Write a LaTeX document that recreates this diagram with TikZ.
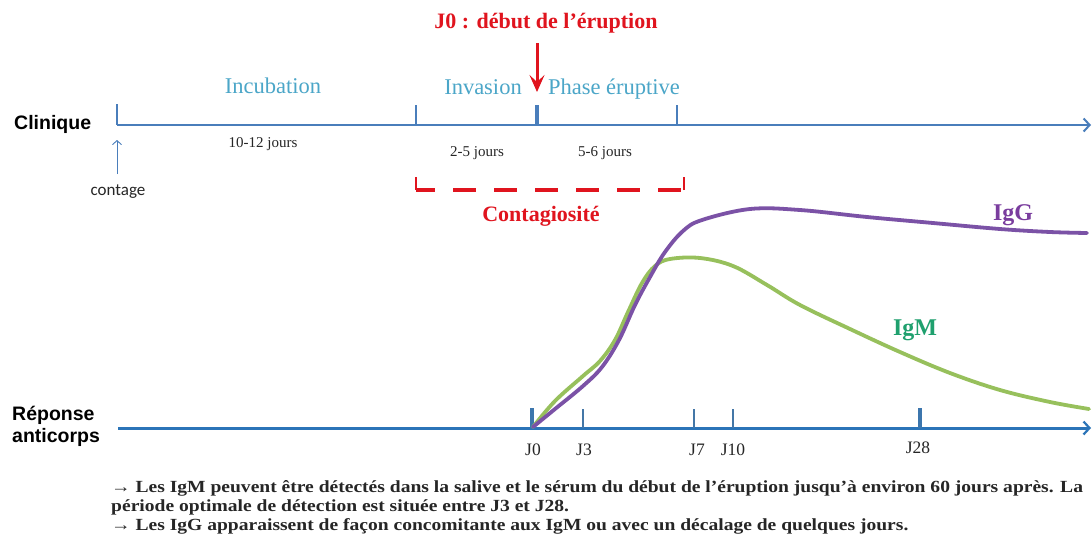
\documentclass[tikz,border=0pt]{standalone}
\usepackage{fontspec}
\setmainfont{Liberation Serif}
\newfontfamily\arialf{Liberation Sans}
\newfontfamily\calibrif{Carlito}
\newfontfamily\bodyf[FakeStretch=1.15]{Liberation Serif}
\usetikzlibrary{arrows.meta}
\definecolor{axisA}{HTML}{4A7EBB}
\definecolor{axisB}{HTML}{2B74B8}
\definecolor{phasec}{HTML}{4BA6C8}
\definecolor{redc}{HTML}{E0141E}
\definecolor{iggc}{HTML}{7B52A6}
\definecolor{igmc}{HTML}{97C05C}
\definecolor{igmtext}{HTML}{1FA06E}
\definecolor{iggtext}{HTML}{7A3D9E}
\definecolor{textc}{HTML}{262626}
\tikzset{
  topaxis/.style={draw=axisA, line width=2.3pt, -{Straight Barb[length=6pt,width=13pt,line width=2pt]}},
  botaxis/.style={draw=axisB, line width=3pt, -{Straight Barb[length=6pt,width=13pt,line width=2.2pt]}},
  thintick/.style={draw=axisA, line width=1.1pt},
  thicktick/.style={draw=axisA, line width=3.5pt},
  bthin/.style={draw=axisB!70!gray, line width=1.1pt},
  bthick/.style={draw=axisB!80!gray, line width=3.5pt},
  lab/.style={inner sep=0pt, anchor=base},
  sideLabel/.style={inner sep=0pt, anchor=west, font=\arialf\bfseries\fontsize{19.5}{22}\selectfont, text=black, align=left},
  phaselab/.style={lab, font=\fontsize{22.5}{26}\selectfont, text=phasec},
  durlab/.style={lab, font=\fontsize{15}{17}\selectfont, text=textc},
  redlab/.style={lab, font=\bfseries\fontsize{22}{26}\selectfont, text=redc},
  jlab/.style={lab, font=\fontsize{17.5}{20}\selectfont, text=textc},
  ablab/.style={lab, font=\bfseries\fontsize{24}{28}\selectfont},
  bodytxt/.style={inner sep=0pt, anchor=base west, font=\bodyf\bfseries\fontsize{17}{19}\selectfont, text=textc},
  curveG/.style={draw=iggc, line width=3.8pt, line cap=round},
  curveM/.style={draw=igmc, line width=3.8pt, line cap=round},
}
\begin{document}
\begin{tikzpicture}[x=1pt,y=-1pt]
\useasboundingbox[fill=white] (0,0) rectangle (1092,547);
% top axis
\coordinate (t0) at (117,125);
\coordinate (tend) at (1091,125);
\coordinate (tinv) at (416,125);
\coordinate (tj0) at (537,125);
\coordinate (tph) at (677,125);
\draw[topaxis] (t0) -- (tend);
\draw[thintick] (117,104) -- (t0);
\draw[thintick] (416,105) -- (tinv);
\draw[thintick] (677,105) -- (tph);
\draw[thicktick] (537,105) -- (tj0);
\node[sideLabel] (clin) at (14,124) {Clinique};
% contage
\coordinate (cbot) at (117,174);
\coordinate (ctop) at (117,140);
\draw[draw=axisA, line width=0.9pt, -{Straight Barb[length=4pt,width=9pt]}] (cbot) -- (ctop);
\node[inner sep=0pt, font=\calibrif\fontsize{17}{20}\selectfont, text=textc] (cont) at (118,192) {contage};
% phase labels
\node[phaselab] (incub) at (273,93) {Incubation};
\node[phaselab] (inv) at (483,94) {Invasion};
\node[phaselab] (phase) at (614,94) {Phase éruptive};
\node[durlab] (d1) at (263,147) {10-12 jours};
\node[durlab] (d2) at (477,156) {2-5 jours};
\node[durlab] (d3) at (605,156) {5-6 jours};
% J0 eruption
\node[redlab] (j0t) at (546,28) {J0 : début de l’éruption};
\coordinate (rtop) at (537,43);
\coordinate (rbot) at (537,92);
\draw[draw=redc, line width=3pt, -{Stealth[length=17pt,width=15pt,inset=7pt]}] (rtop) -- (rbot);
% contagiosite bracket
\coordinate (b1) at (416,177);
\coordinate (b2) at (416,190);
\coordinate (b3) at (684,190);
\coordinate (b4) at (684,177);
\draw[draw=redc, line width=3.2pt, dash pattern=on 23pt off 18pt, dash phase=4pt] (b2) -- (b3);
\draw[draw=redc, line width=1.8pt] (b1) -- (b2);
\draw[draw=redc, line width=1.8pt] (b3) -- (b4);
\node[redlab] (contag) at (541,221) {Contagiosité};
% bottom axis
\coordinate (a0) at (118,428);
\coordinate (aend) at (1091,428);
\draw[botaxis] (a0) -- (aend);
\node[sideLabel] (rep) at (12,426) {Réponse\\anticorps};
\coordinate (k0) at (532,428);
\coordinate (k3) at (583,428);
\coordinate (k7) at (694,428);
\coordinate (k10) at (733,428);
\coordinate (k28) at (920,428);
\draw[bthick] (532,408) -- (k0);
\draw[bthin] (583,409) -- (k3);
\draw[bthin] (694,409) -- (k7);
\draw[bthin] (733,409) -- (k10);
\draw[bthick] (920,408) -- (k28);
\node[jlab] (l0) at (533,455) {J0};
\node[jlab] (l3) at (584,455) {J3};
\node[jlab] (l7) at (697,455) {J7};
\node[jlab] (l10) at (733,455) {J10};
\node[jlab] (l28) at (918,453) {J28};
% curves
\draw[curveM] plot[smooth, tension=0.6] coordinates {(533,427) (555,401) (583,376) (600,361) (615,340) (628,312) (642,283) (655,266) (670,259) (700,258) (733,266) (767,285) (800,305) (850,329) (900,352) (950,373) (1000,390) (1050,402) (1089,409)};
\draw[curveG] plot[smooth, tension=0.6] coordinates {(533,427) (555,409) (583,386) (602,367) (619,340) (635,305) (650,277) (665,252) (683,231) (702,220) (750,209) (800,210) (867,217) (933,223) (1000,229) (1050,232) (1087,233)};
\node[ablab, text=iggtext] (iggl) at (1013,220) {IgG};
\node[ablab, text=igmtext] (igml) at (915,335) {IgM};
% bottom text
\node[bodytxt] (tx1) at (111,492) {→ Les IgM peuvent être détectés dans la salive et le sérum du début de l’éruption jusqu’à environ 60 jours après. La};
\node[bodytxt] (tx2) at (111,511) {période optimale de détection est située entre J3 et J28.};
\node[bodytxt] (tx3) at (111,530) {→ Les IgG apparaissent de façon concomitante aux IgM ou avec un décalage de quelques jours.};
\end{tikzpicture}
\end{document}
